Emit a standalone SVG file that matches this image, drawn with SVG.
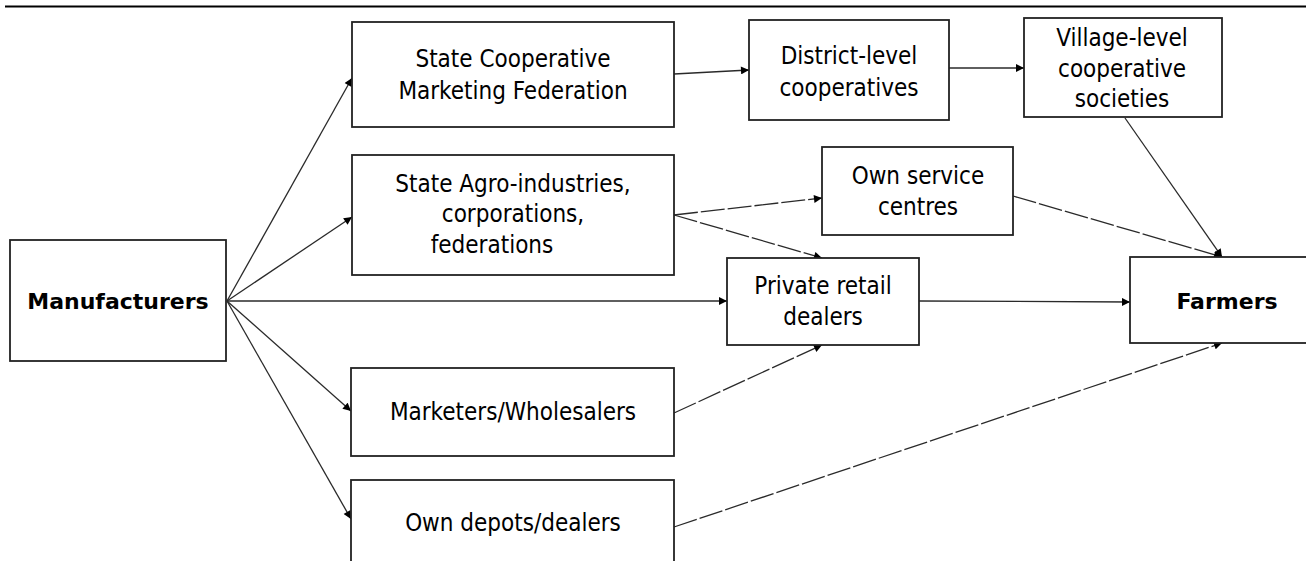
<svg xmlns="http://www.w3.org/2000/svg" width="1306" height="561" viewBox="0 0 1306 561">
<style>
.box{fill:#fff;stroke:#222;stroke-width:1.8}
.t{font-family:"DejaVu Sans Condensed","DejaVu Sans",sans-serif;font-size:24px;fill:#000;text-anchor:middle}
.b{font-family:"DejaVu Sans","Liberation Sans",sans-serif;font-weight:bold;font-size:22px;fill:#000;text-anchor:middle}
.c{fill:none;stroke:#2a2a2a;stroke-width:1.3;marker-end:url(#ah)}
.d{stroke-dasharray:24 3}
</style>
<defs>
<marker id="ah" viewBox="0 0 10 10" refX="10" refY="5" markerWidth="9" markerHeight="8" markerUnits="userSpaceOnUse" orient="auto">
<path d="M0,0 L10,5 L0,10 z" fill="#000"/>
</marker>
</defs>
<rect width="1306" height="561" fill="#fff"/>
<line x1="5" y1="6.5" x2="1306" y2="6.5" stroke="#000" stroke-width="2"/>

<g id="connectors">
<path class="c" d="M227,301 L352,78"/>
<path class="c" d="M227,301 L352,217"/>
<path class="c" d="M227,301 L727,301"/>
<path class="c" d="M227,301 L351,411"/>
<path class="c" d="M227,301 L351,519"/>
<path class="c" d="M674,74 L749,70"/>
<path class="c" d="M949,68 L1024,68"/>
<path class="c" d="M1125,118 L1222,257"/>
<path class="c d" d="M674,215 L822,198"/>
<path class="c d" d="M674,215 L822,258"/>
<path class="c" d="M919,301 L1130,302"/>
<path class="c d" d="M1013,196 L1222,257"/>
<path class="c d" d="M674,413 L822,345"/>
<path class="c d" d="M674,527 L1222,343"/>
</g>

<g id="manufacturers"><rect class="box" x="10" y="240" width="216" height="121"/><text class="b" x="118" y="309">Manufacturers</text></g>
<g id="state-coop"><rect class="box" x="352" y="22" width="322" height="105"/><text class="t" x="513" y="67">State Cooperative</text><text class="t" x="513" y="99">Marketing Federation</text></g>
<g id="district"><rect class="box" x="749" y="20" width="200" height="100"/><text class="t" x="849" y="64">District-level</text><text class="t" x="849" y="96">cooperatives</text></g>
<g id="village"><rect class="box" x="1024" y="18" width="198" height="99"/><text class="t" x="1122" y="46">Village-level</text><text class="t" x="1122" y="77">cooperative</text><text class="t" x="1122" y="107">societies</text></g>
<g id="state-agro"><rect class="box" x="352" y="155" width="322" height="120"/><text class="t" x="513" y="192">State Agro-industries,</text><text class="t" x="513" y="222">corporations,</text><text class="t" x="492" y="253">federations</text></g>
<g id="own-service"><rect class="box" x="822" y="147" width="191" height="88"/><text class="t" x="918" y="184">Own service</text><text class="t" x="918" y="215">centres</text></g>
<g id="private-retail"><rect class="box" x="727" y="258" width="192" height="87"/><text class="t" x="823" y="294">Private retail</text><text class="t" x="823" y="325">dealers</text></g>
<g id="farmers"><rect class="box" x="1130" y="257" width="195" height="86"/><text class="b" x="1227" y="309">Farmers</text></g>
<g id="marketers"><rect class="box" x="351" y="368" width="323" height="88"/><text class="t" x="513" y="420">Marketers/Wholesalers</text></g>
<g id="own-depots"><rect class="box" x="351" y="480" width="323" height="95"/><text class="t" x="513" y="531">Own depots/dealers</text></g>
</svg>
